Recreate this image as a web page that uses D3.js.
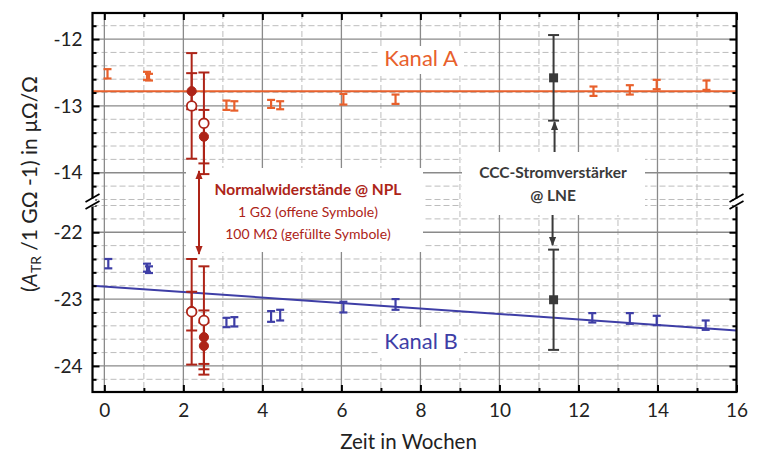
<!DOCTYPE html>
<html><head><meta charset="utf-8">
<script src="https://cdn.jsdelivr.net/npm/d3@7"></script>
<style>
body{margin:0;background:#fff}
svg{display:block}
text{font-family:Lato,'Open Sans',sans-serif}
</style>
</head><body>
<svg id="c" width="760" height="454"></svg>
<script>
// ---------- data ----------
const kanalA_x   = [0.08, 1.08, 1.13, 3.09, 3.29, 4.22, 4.45, 6.05, 7.37, 12.38, 13.30, 13.98, 15.24];
const kanalA_y   = [-12.52, -12.55, -12.57, -12.99, -13.00, -12.97, -12.99, -12.90, -12.90, -12.78, -12.76, -12.68, -12.69];
const kanalA_err = [0.07, 0.06, 0.05, 0.07, 0.07, 0.06, 0.06, 0.08, 0.07, 0.07, 0.07, 0.07, 0.07];

const kanalB_x   = [0.10, 1.08, 1.13, 3.09, 3.29, 4.22, 4.45, 6.05, 7.37, 12.35, 13.30, 13.98, 15.22];
const kanalB_y   = [-22.47, -22.53, -22.56, -23.35, -23.34, -23.26, -23.24, -23.12, -23.08, -23.28, -23.29, -23.32, -23.39];
const kanalB_err = [0.07, 0.06, 0.05, 0.07, 0.07, 0.08, 0.08, 0.08, 0.08, 0.07, 0.08, 0.07, 0.07];

const fitA_x = [-0.3, 16];
const fitA_y = [-12.78, -12.78];
const fitB_x = [-0.3, 16];
const fitB_y = [-22.80, -23.47];

// NPL standard resistors: open = 1 GOhm, filled = 100 MOhm
const nplOpen_x   = [2.21, 2.52, 2.21, 2.52];
const nplOpen_y   = [-13.00, -13.26, -23.19, -23.32];
const nplOpen_err = [0.79, 0.76, 0.79, 0.81];
const nplFilled_x   = [2.21, 2.52, 2.21, 2.52, 2.52];
const nplFilled_y   = [-12.78, -13.46, -23.18, -23.57, -23.70];
const nplFilled_err = [0.27, 0.40, 0.29, 0.40, 0.35];

// CCC current amplifier @ LNE
const ccc_x   = [11.37, 11.37];
const ccc_y   = [-12.58, -23.01];
const ccc_err = [0.64, 0.75];

const xTicks = [0, 2, 4, 6, 8, 10, 12, 14, 16];
const xMinorTicks = [1, 3, 5, 7, 9, 11, 13, 15];
const yTicksUpper = [-12, -13, -14];
const yTicksLower = [-22, -23, -24];

const xLabel = "Zeit in Wochen";
const labelKanalA = "Kanal A";
const labelKanalB = "Kanal B";
const nplText = ["Normalwiderstände @ NPL", "1 GΩ (offene Symbole)", "100 MΩ (gefüllte Symbole)"];
const cccText = ["CCC-Stromverstärker", "@ LNE"];

// ---------- layout ----------
const L = 92.5, R = 736.5, T = 13, B = 392;
const brk = 202.5;
const colA = "#e8602c", colB = "#3e3ea6", colN = "#ad2418", colC = "#3a3a3a";
const FF = "Lato,'Open Sans',sans-serif";

const svg = d3.select("#c");
const x = d3.scaleLinear().domain([-0.3, 16]).range([L, R]);
const y = d3.scaleLinear().domain([-24.39, -21.555, -14.445, -11.61]).range([B, brk, brk, T]);

// minor y positions (every 0.2)
const yMinor = [];
for (let v = -11.8; v >= -14.41; v -= 0.2) { const r = Math.round(v*10)/10; if (!yTicksUpper.includes(r)) yMinor.push(r); }
for (let v = -21.6; v >= -24.21; v -= 0.2) { const r = Math.round(v*10)/10; if (!yTicksLower.includes(r)) yMinor.push(r); }
const yMajor = yTicksUpper.concat(yTicksLower);

// ---------- grid ----------
const g = svg.append("g");
g.append("rect").attr("x", L).attr("y", T).attr("width", R-L).attr("height", B-T).attr("fill", "#fff");
const grid = g.append("g");
grid.selectAll(".hmin").data(yMinor).join("line")
  .attr("x1", L).attr("x2", R).attr("y1", d => y(d)).attr("y2", d => y(d))
  .attr("stroke", "#bdbdbd").attr("stroke-width", 1).attr("stroke-dasharray", "6,3");
grid.selectAll(".vmin").data(xMinorTicks).join("line")
  .attr("x1", d => x(d)).attr("x2", d => x(d)).attr("y1", T).attr("y2", B)
  .attr("stroke", "#bdbdbd").attr("stroke-width", 1).attr("stroke-dasharray", "6,3");
grid.selectAll(".hmaj").data(yMajor).join("line")
  .attr("x1", L).attr("x2", R).attr("y1", d => y(d)).attr("y2", d => y(d))
  .attr("stroke", "#8a8a8a").attr("stroke-width", 1.3);
grid.selectAll(".vmaj").data(xTicks).join("line")
  .attr("x1", d => x(d)).attr("x2", d => x(d)).attr("y1", T).attr("y2", B)
  .attr("stroke", "#8a8a8a").attr("stroke-width", 1.3);

// ---------- white label boxes ----------
const boxes = [[186, 168, 237, 84], [462, 152, 183, 63], [378, 46, 86, 28], [378, 327, 86, 31]];
g.selectAll(".box").data(boxes).join("rect")
  .attr("x", d => d[0]).attr("y", d => d[1]).attr("width", d => d[2]).attr("height", d => d[3])
  .attr("fill", "#fff");

// ---------- fit lines ----------
const line = d3.line().x(d => x(d[0])).y(d => y(d[1]));
g.append("path").attr("d", line(d3.zip(fitA_x, fitA_y))).attr("stroke", colA).attr("stroke-width", 2).attr("fill", "none");
g.append("path").attr("d", line(d3.zip(fitB_x, fitB_y))).attr("stroke", colB).attr("stroke-width", 2).attr("fill", "none");

// ---------- error bars ----------
function errBars(xs, ys, es, color, hw, sw) {
  const data = xs.map((v, i) => ({x: v, y: ys[i], e: es[i]}));
  const gg = g.append("g").attr("stroke", color).attr("stroke-width", sw).attr("fill", "none");
  gg.selectAll(".v").data(data).join("line")
    .attr("x1", d => x(d.x)).attr("x2", d => x(d.x))
    .attr("y1", d => y(d.y + d.e)).attr("y2", d => y(d.y - d.e));
  gg.selectAll(".t").data(data).join("line")
    .attr("x1", d => x(d.x) - hw).attr("x2", d => x(d.x) + hw)
    .attr("y1", d => y(d.y + d.e)).attr("y2", d => y(d.y + d.e));
  gg.selectAll(".b").data(data).join("line")
    .attr("x1", d => x(d.x) - hw).attr("x2", d => x(d.x) + hw)
    .attr("y1", d => y(d.y - d.e)).attr("y2", d => y(d.y - d.e));
  return data;
}
errBars(kanalA_x, kanalA_y, kanalA_err, colA, 4, 2.2);
errBars(kanalB_x, kanalB_y, kanalB_err, colB, 4, 2.2);
errBars(nplFilled_x, nplFilled_y, nplFilled_err, colN, 5.5, 2);
errBars(nplOpen_x, nplOpen_y, nplOpen_err, colN, 5.5, 2);
errBars(ccc_x, ccc_y, ccc_err, colC, 5.5, 2);

// markers
g.selectAll(".nf").data(d3.zip(nplFilled_x, nplFilled_y)).join("circle")
  .attr("cx", d => x(d[0])).attr("cy", d => y(d[1])).attr("r", 4.6)
  .attr("fill", colN).attr("stroke", colN).attr("stroke-width", 1);
g.selectAll(".no").data(d3.zip(nplOpen_x, nplOpen_y)).join("circle")
  .attr("cx", d => x(d[0])).attr("cy", d => y(d[1])).attr("r", 4.8)
  .attr("fill", "#fff").attr("stroke", colN).attr("stroke-width", 1.8);
g.selectAll(".cc").data(d3.zip(ccc_x, ccc_y)).join("rect")
  .attr("x", d => x(d[0]) - 4.5).attr("y", d => y(d[1]) - 4.5).attr("width", 9).attr("height", 9)
  .attr("fill", colC);

// ---------- arrows ----------
const defs = svg.append("defs");
function marker(id, color) {
  defs.append("marker").attr("id", id).attr("viewBox", "0 0 10 10").attr("refX", 9).attr("refY", 5)
    .attr("markerWidth", 9).attr("markerHeight", 9).attr("markerUnits", "userSpaceOnUse").attr("orient", "auto")
    .append("path").attr("d", "M0,1 L10,5 L0,9 Z").attr("fill", color);
}
marker("ar", colN); marker("ag", colC);
g.append("line").attr("x1", 199).attr("x2", 199).attr("y1", 212).attr("y2", 171)
  .attr("stroke", colN).attr("stroke-width", 2).attr("marker-end", "url(#ar)");
g.append("line").attr("x1", 199).attr("x2", 199).attr("y1", 210).attr("y2", 254)
  .attr("stroke", colN).attr("stroke-width", 2).attr("marker-end", "url(#ar)");
g.append("line").attr("x1", x(ccc_x[0]) + 1).attr("x2", x(ccc_x[0]) + 1).attr("y1", 152).attr("y2", 122)
  .attr("stroke", colC).attr("stroke-width", 2).attr("marker-end", "url(#ag)");
g.append("line").attr("x1", x(ccc_x[1]) - 1).attr("x2", x(ccc_x[1]) - 1).attr("y1", 215).attr("y2", 245)
  .attr("stroke", colC).attr("stroke-width", 2).attr("marker-end", "url(#ag)");

// ---------- annotations ----------
g.append("text").attr("x", 421).attr("y", 66).attr("text-anchor", "middle")
  .attr("font-size", 22).attr("fill", colA).text(labelKanalA);
g.append("text").attr("x", 421).attr("y", 349).attr("text-anchor", "middle")
  .attr("font-size", 22).attr("fill", colB).text(labelKanalB);
g.append("text").attr("x", 308).attr("y", 195).attr("text-anchor", "middle")
  .attr("font-size", 15.5).attr("font-weight", "bold").attr("fill", colN).text(nplText[0]);
g.append("text").attr("x", 308).attr("y", 217).attr("text-anchor", "middle")
  .attr("font-size", 14).attr("fill", colN).text(nplText[1]);
g.append("text").attr("x", 308).attr("y", 238.5).attr("text-anchor", "middle")
  .attr("font-size", 14).attr("fill", colN).text(nplText[2]);
g.append("text").attr("x", 553).attr("y", 177.5).attr("text-anchor", "middle")
  .attr("font-size", 15.5).attr("font-weight", "bold").attr("fill", colC).text(cccText[0]);
g.append("text").attr("x", 553).attr("y", 200.5).attr("text-anchor", "middle")
  .attr("font-size", 15.5).attr("font-weight", "bold").attr("fill", colC).text(cccText[1]);

// ---------- axes (ticks inward) ----------
const axG = svg.append("g");
function tickStyle(sel){ sel.select(".domain").remove(); sel.selectAll("line").attr("stroke", "#000").attr("stroke-width", 2); }
const fmt = d => String(d);
axG.append("g").attr("transform", `translate(0,${B})`)
  .call(d3.axisBottom(x).tickValues(xTicks).tickSize(-7).tickPadding(12).tickFormat(fmt))
  .call(tickStyle).call(s => s.selectAll("text").attr("font-size", 19).attr("fill", "#222").attr("font-family", FF));
axG.append("g").attr("transform", `translate(0,${B})`)
  .call(d3.axisBottom(x).tickValues(xMinorTicks).tickSize(-4).tickFormat(""))
  .call(tickStyle);
axG.append("g").attr("transform", `translate(0,${T})`)
  .call(d3.axisTop(x).tickValues(xTicks).tickSize(-7).tickFormat(""))
  .call(tickStyle);
axG.append("g").attr("transform", `translate(0,${T})`)
  .call(d3.axisTop(x).tickValues(xMinorTicks).tickSize(-4).tickFormat(""))
  .call(tickStyle);
axG.append("g").attr("transform", `translate(${L},0)`)
  .call(d3.axisLeft(y).tickValues(yMajor).tickSize(-7).tickPadding(10).tickFormat(fmt))
  .call(tickStyle).call(s => s.selectAll("text").attr("font-size", 19).attr("fill", "#222").attr("font-family", FF));
axG.append("g").attr("transform", `translate(${L},0)`)
  .call(d3.axisLeft(y).tickValues(yMinor).tickSize(-4).tickFormat(""))
  .call(tickStyle);
axG.append("g").attr("transform", `translate(${R},0)`)
  .call(d3.axisRight(y).tickValues(yMajor).tickSize(-7).tickFormat(""))
  .call(tickStyle);
axG.append("g").attr("transform", `translate(${R},0)`)
  .call(d3.axisRight(y).tickValues(yMinor).tickSize(-4).tickFormat(""))
  .call(tickStyle);

// frame
axG.append("rect").attr("x", L).attr("y", T).attr("width", R-L).attr("height", B-T)
  .attr("fill", "none").attr("stroke", "#000").attr("stroke-width", 2.2);

// axis breaks
[L, R].forEach(px => {
  axG.append("rect").attr("x", px - 3).attr("y", brk - 4).attr("width", 6).attr("height", 8).attr("fill", "#fff");
  axG.append("line").attr("x1", px - 7).attr("y1", brk - 0.5).attr("x2", px + 7).attr("y2", brk - 8.5)
    .attr("stroke", "#000").attr("stroke-width", 1.8);
  axG.append("line").attr("x1", px - 7).attr("y1", brk + 6.5).attr("x2", px + 7).attr("y2", brk - 1.5)
    .attr("stroke", "#000").attr("stroke-width", 1.8);
});

// axis titles
svg.append("text").attr("x", (L + R) / 2 - 6).attr("y", 449).attr("text-anchor", "middle")
  .attr("font-size", 20.5).attr("fill", "#222").text(xLabel);
const yl = svg.append("text").attr("transform", "translate(37,184) rotate(-90)").attr("text-anchor", "middle")
  .attr("font-size", 21).attr("fill", "#222");
yl.append("tspan").text("(");
yl.append("tspan").attr("font-style", "italic").text("A");
yl.append("tspan").attr("font-size", 14).attr("dy", 4).text("TR");
yl.append("tspan").attr("dy", -4).text(" /1 GΩ -1) in µΩ/Ω");
</script>
</body></html>
